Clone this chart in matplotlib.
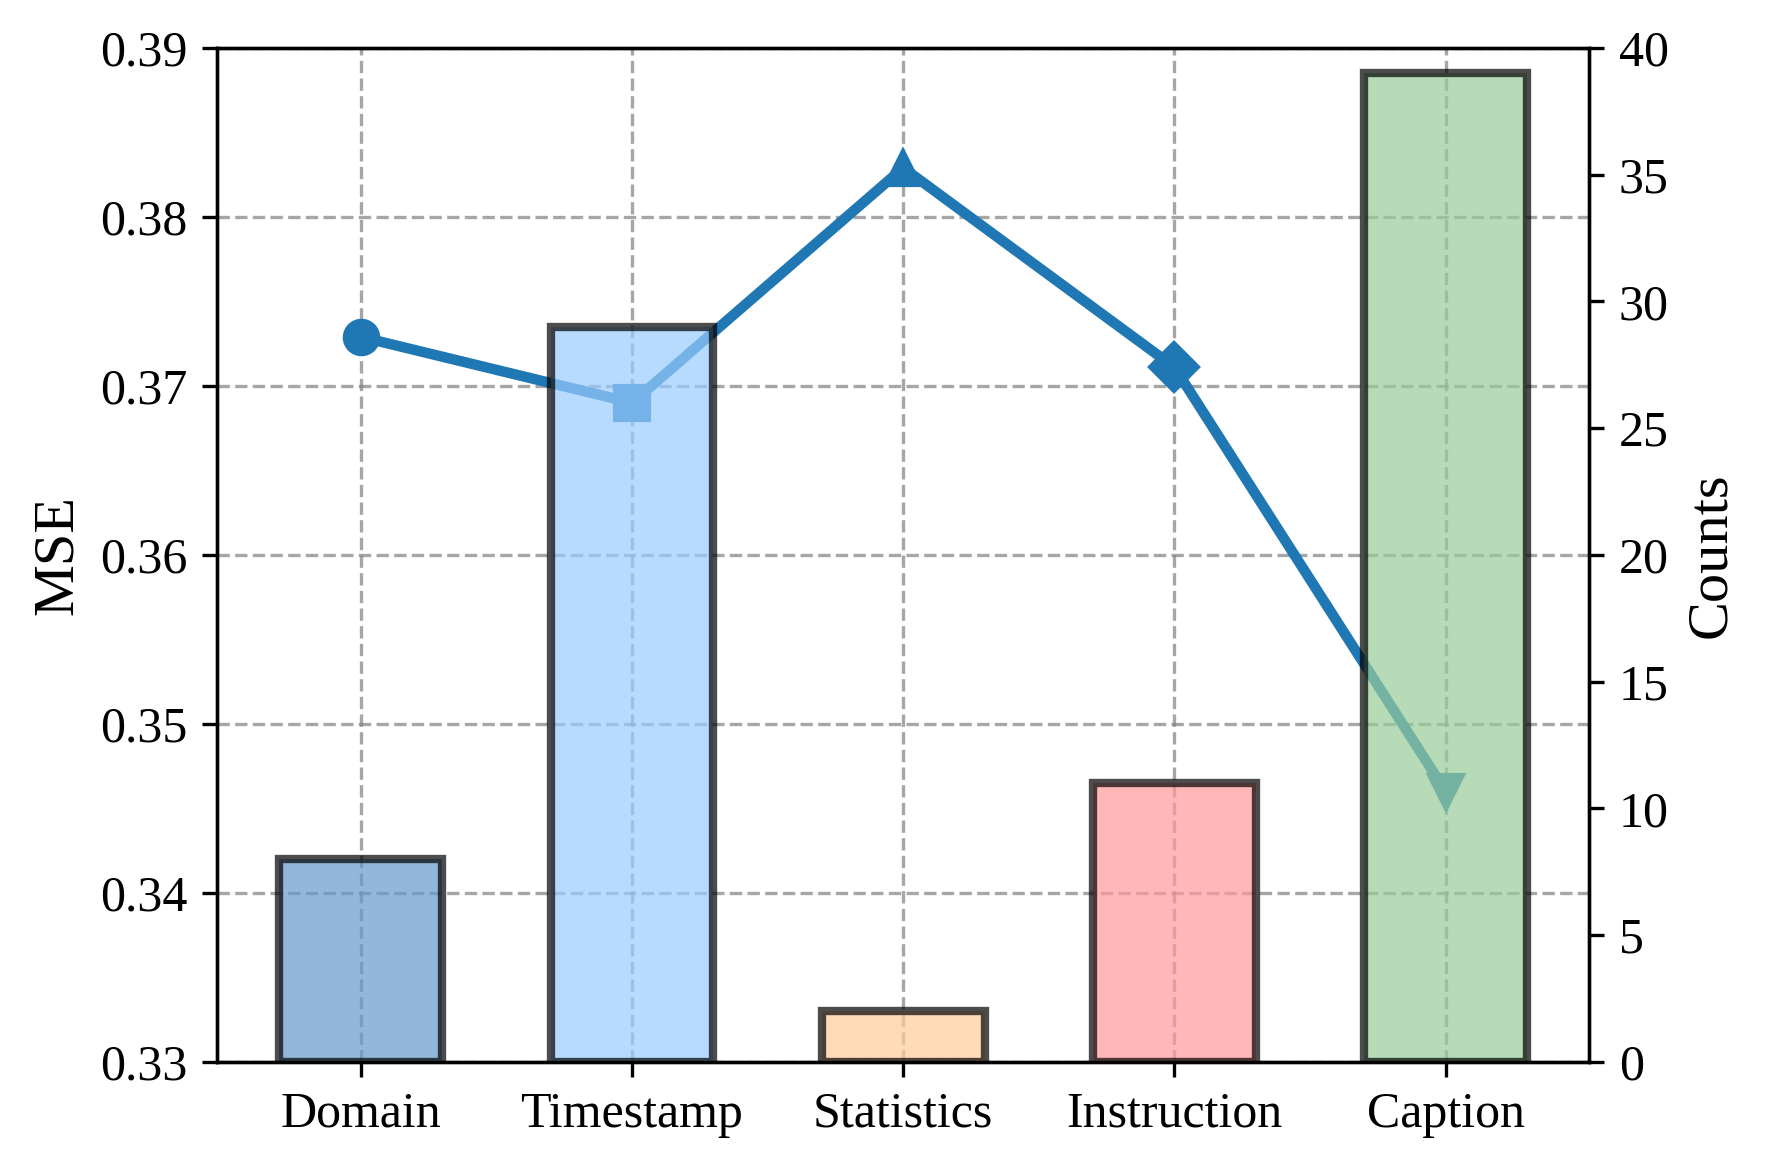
import matplotlib
matplotlib.use("Agg")
import matplotlib.pyplot as plt

categories = ["Domain", "Timestamp", "Statistics", "Instruction", "Caption"]
mse = [0.3729, 0.3690, 0.3829, 0.3711, 0.3460]
counts = [8, 29, 2, 11, 39]
markers = ["o", "s", "^", "D", "v"]
bar_colors = ["#6699cc", "#99ccff", "#ffcc99", "#ff9999", "#99cc99"]
mse_ticks = [0.33, 0.34, 0.35, 0.36, 0.37, 0.38, 0.39]
count_ticks = [0, 5, 10, 15, 20, 25, 30, 35, 40]

plt.rcParams["font.family"] = ["Liberation Serif", "DejaVu Serif"]
plt.rcParams["mathtext.fontset"] = "stix"

fig = plt.figure(figsize=(5.9, 3.89), dpi=300)
ax1 = fig.add_axes([0.1226, 0.09, 0.898 - 0.1226, 0.959 - 0.09])
x = list(range(len(categories)))

ax1.plot(x, mse, color="#1f77b4", lw=2.5, zorder=3)
for xi, yi, m in zip(x, mse, markers):
    ax1.plot([xi], [yi], marker=m, color="#1f77b4", markersize=8, zorder=3)
ax1.set_ylim(0.33, 0.39)
ax1.set_yticks(mse_ticks)
ax1.set_yticklabels([f"{t:.2f}" for t in mse_ticks])
ax1.set_ylabel("MSE", fontsize=14)
ax1.set_xticks(x)
ax1.set_xticklabels(categories)
ax1.tick_params(labelsize=12)
ax1.grid(True, linestyle="--", color="gray", alpha=0.7, lw=0.8)
ax1.set_axisbelow(True)

ax2 = ax1.twinx()
ax2.bar(x, counts, width=0.6, color=bar_colors, edgecolor="black", linewidth=2, alpha=0.7)
ax2.set_ylim(0, 40)
ax2.set_yticks(count_ticks)
ax2.set_ylabel("Counts", fontsize=14)
ax2.tick_params(labelsize=12)
ax1.set_xlim(-0.53, 4.53)

fig.savefig("out.png", dpi=300)
